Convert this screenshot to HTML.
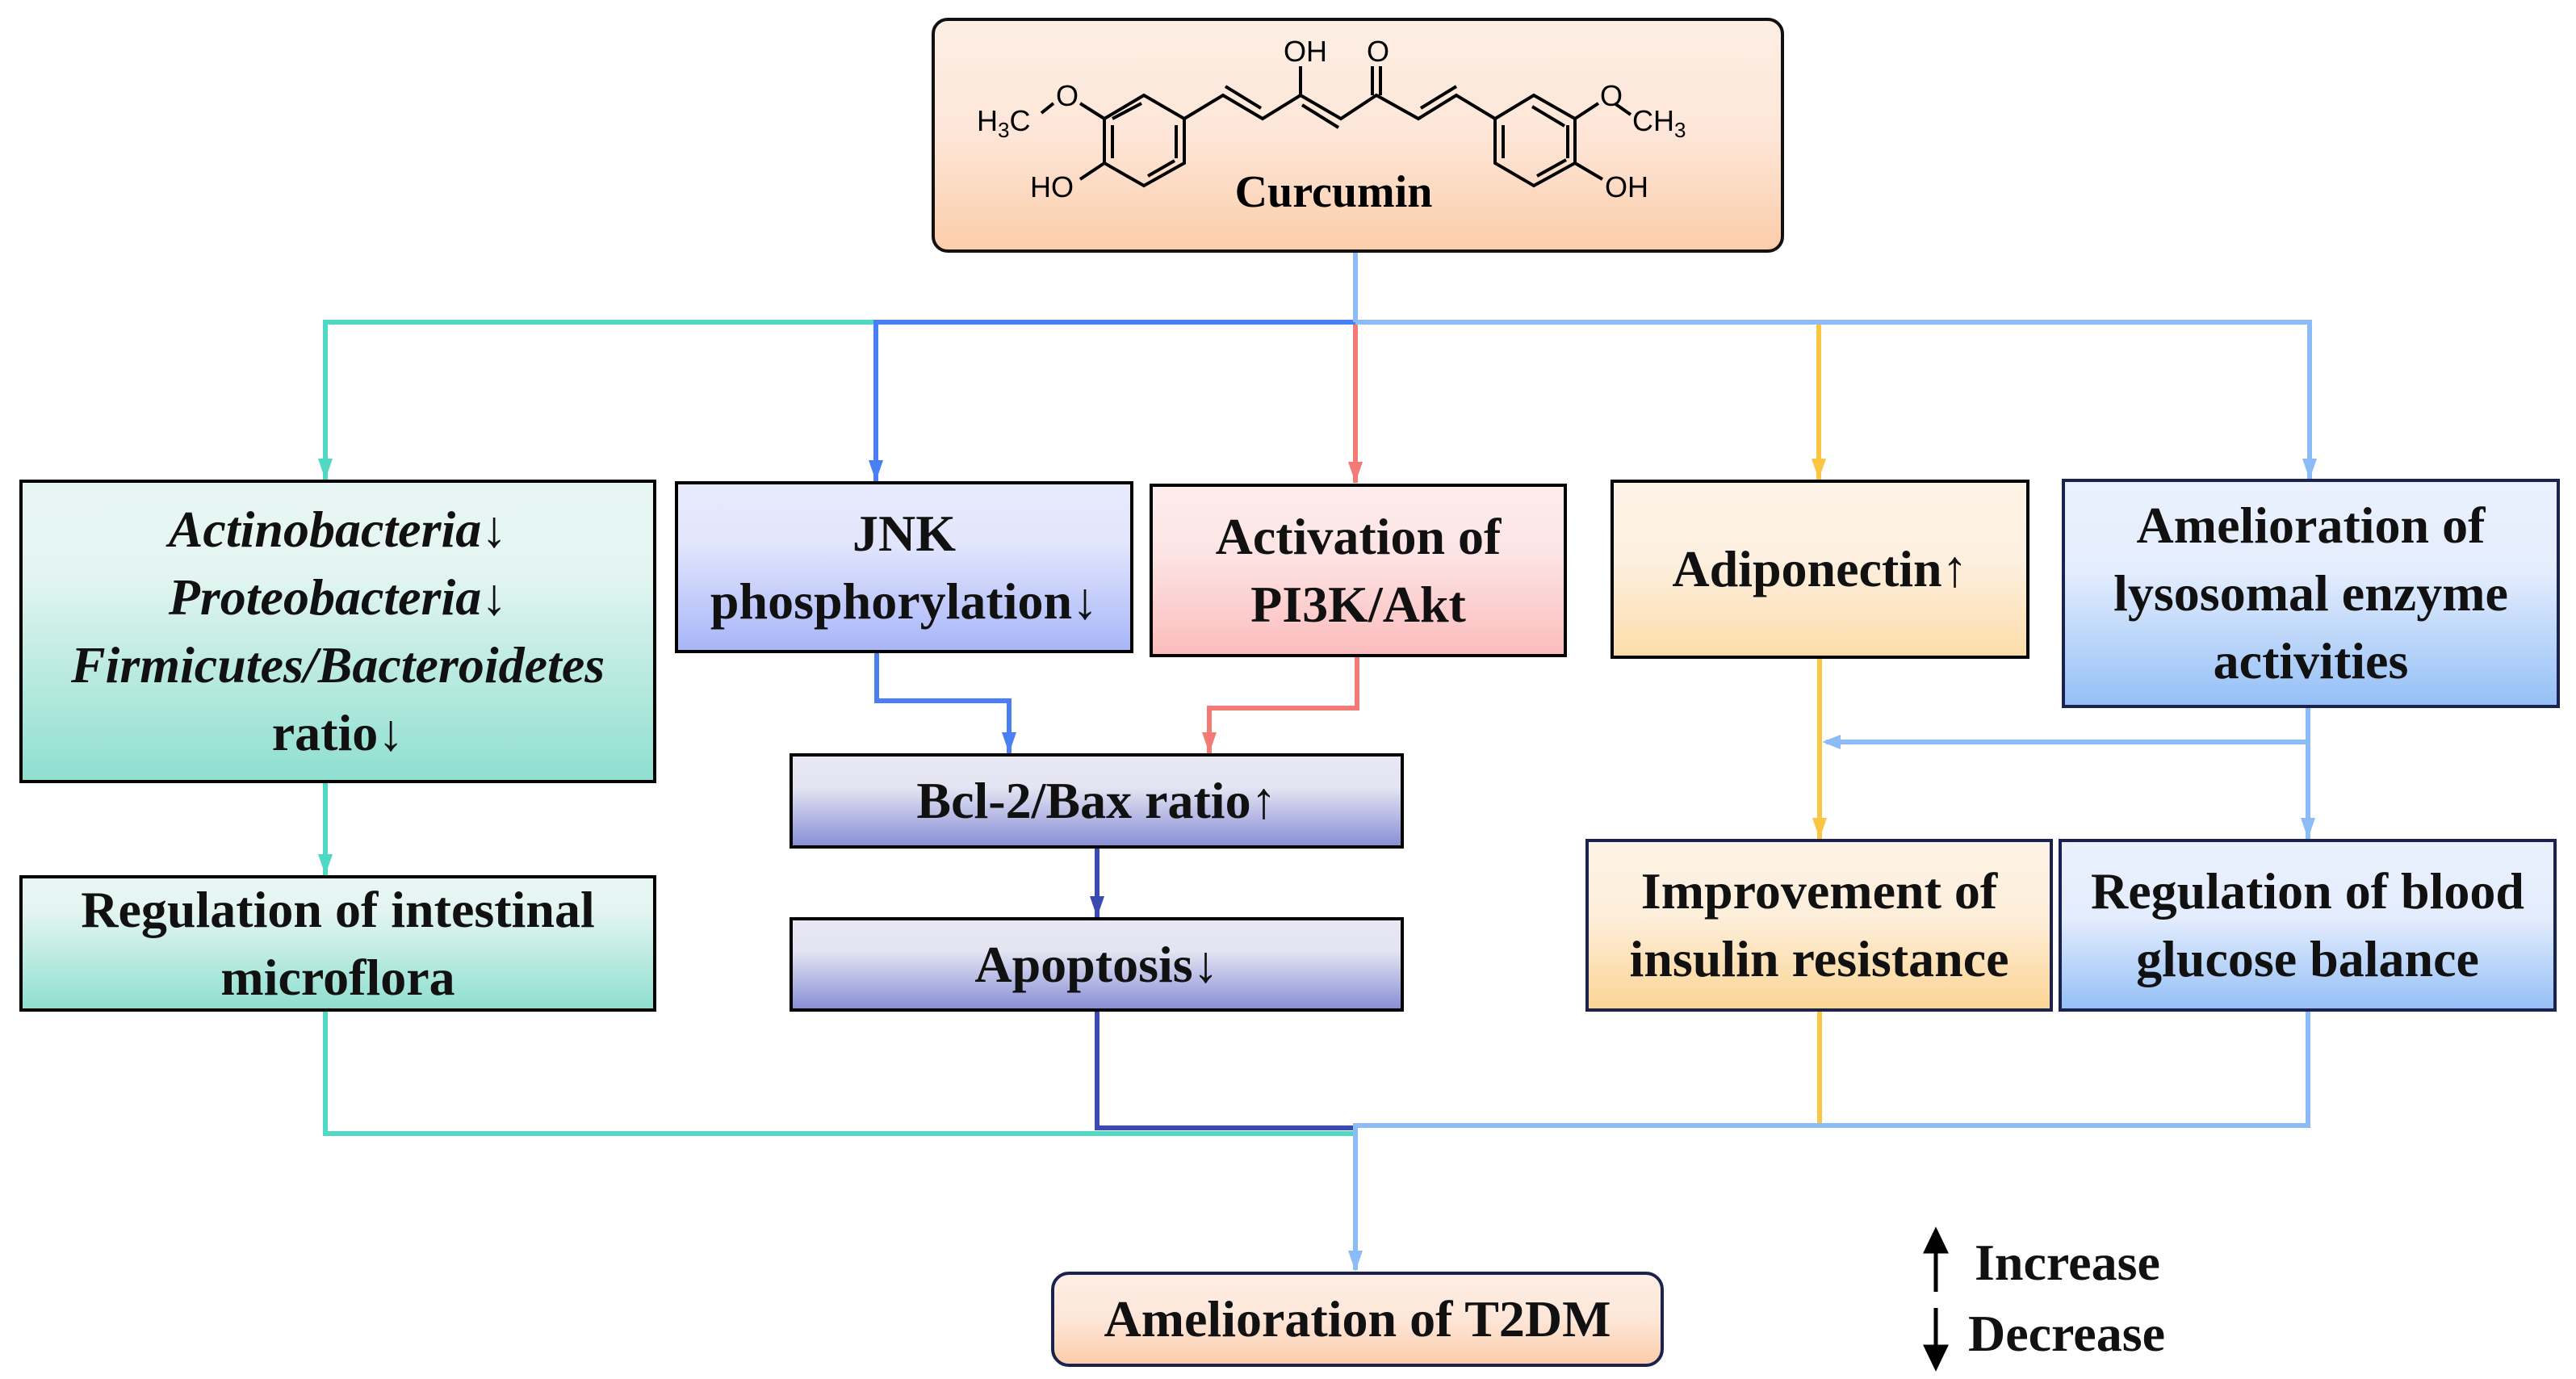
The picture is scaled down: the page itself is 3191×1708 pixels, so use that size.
<!DOCTYPE html>
<html><head><meta charset="utf-8"><style>
html,body{margin:0;padding:0;background:#fff;}
body{width:3191px;height:1708px;position:relative;overflow:hidden;font-family:"Liberation Serif",serif;}
.b{position:absolute;box-sizing:border-box;display:flex;align-items:center;justify-content:center;text-align:center;font-weight:bold;font-size:64px;line-height:84px;color:#111;}
.k{border:4px solid #000;}
.n{border:4px solid #1a2250;}
svg{position:absolute;left:0;top:0;}
</style></head><body>
<svg width="3191" height="1708">
<g fill="none" stroke-width="6">
<polyline points="403,594 403,399 1679,399" stroke="#4fd8c4"/>
<polyline points="1085,596 1085,399 1679,399" stroke="#4a7ef5"/>
<line x1="1679" y1="313" x2="1679" y2="399" stroke="#8cbcf8"/>
<polyline points="1679,399 2861,399 2861,594" stroke="#8cbcf8"/>
<line x1="1679" y1="402" x2="1679" y2="598" stroke="#f47a76"/>
<line x1="2253" y1="402" x2="2253" y2="594" stroke="#f9c542"/>
<line x1="403" y1="969" x2="403" y2="1084" stroke="#4fd8c4"/>
<polyline points="403,1252 403,1404 1679,1404" stroke="#4fd8c4"/>
<polyline points="1086,809 1086,868 1250,868 1250,933" stroke="#4a7ef5"/>
<polyline points="1681,814 1681,877 1498,877 1498,933" stroke="#f47a76"/>
<line x1="1359" y1="1051" x2="1359" y2="1136" stroke="#3b4ab0"/>
<polyline points="1359,1252 1359,1397 1679,1397" stroke="#3b4ab0"/>
<line x1="2254" y1="815" x2="2254" y2="1039" stroke="#f9c542"/>
<polyline points="2859,876 2859,1039" stroke="#8cbcf8"/>
<line x1="2859" y1="919" x2="2262" y2="919" stroke="#8cbcf8"/>
<line x1="2254" y1="1252" x2="2254" y2="1394" stroke="#f9c542"/>
<polyline points="1679,1573 1679,1394 2859,1394 2859,1252" stroke="#8cbcf8"/>
</g>
<g stroke="none">
<polygon points="394,568 412,568 403,594" fill="#4fd8c4"/>
<polygon points="1076,570 1094,570 1085,596" fill="#4a7ef5"/>
<polygon points="1670,572 1688,572 1679,598" fill="#f47a76"/>
<polygon points="2244,568 2262,568 2253,594" fill="#f9c542"/>
<polygon points="2852,568 2870,568 2861,594" fill="#8cbcf8"/>
<polygon points="394,1058 412,1058 403,1084" fill="#4fd8c4"/>
<polygon points="1241,907 1259,907 1250,933" fill="#4a7ef5"/>
<polygon points="1489,907 1507,907 1498,933" fill="#f47a76"/>
<polygon points="1350,1110 1368,1110 1359,1136" fill="#3b4ab0"/>
<polygon points="2245,1013 2263,1013 2254,1039" fill="#f9c542"/>
<polygon points="2850,1013 2868,1013 2859,1039" fill="#8cbcf8"/>
<polygon points="2257,919 2280,910 2280,928" fill="#8cbcf8"/>
<polygon points="1670,1549 1688,1549 1679,1575" fill="#8cbcf8"/>
</g>
</svg>

<div class="b" style="left:1154px;top:22px;width:1056px;height:291px;border:4px solid #111;border-radius:20px;background:linear-gradient(#fdeee4 0%,#fde6d8 50%,#fccdaa 100%);"></div>
<svg width="3191" height="1708">
<g fill="none" stroke="#000" stroke-width="4">
<polygon points="1417,118 1467,147 1467,202 1417,230 1368,202 1368,147"/>
<line x1="1457" y1="155" x2="1457" y2="196"/><line x1="1378" y1="155" x2="1378" y2="196"/><line x1="1422" y1="218" x2="1455" y2="199"/><line x1="1378" y1="147" x2="1414" y2="128"/>
<polyline points="1467,147 1515,118 1564,147 1611,118 1661,147 1705,118 1757,147 1804,118 1852,147"/>
<line x1="1518" y1="107" x2="1562" y2="134"/><line x1="1613" y1="130" x2="1658" y2="158"/><line x1="1760" y1="134" x2="1804" y2="107"/>
<line x1="1611" y1="118" x2="1611" y2="82"/>
<line x1="1700" y1="118" x2="1700" y2="82"/><line x1="1710" y1="118" x2="1710" y2="82"/>
<polygon points="1852,147 1900,118 1951,147 1951,202 1900,230 1852,202"/>
<line x1="1862" y1="155" x2="1862" y2="196"/><line x1="1942" y1="155" x2="1942" y2="196"/><line x1="1898" y1="132" x2="1938" y2="156"/><line x1="1904" y1="218" x2="1940" y2="198"/>
<line x1="1368" y1="147" x2="1338" y2="128"/><line x1="1305" y1="128" x2="1290" y2="140"/>
<line x1="1368" y1="202" x2="1338" y2="222"/>
<line x1="1951" y1="147" x2="1980" y2="128"/><line x1="2000" y1="128" x2="2020" y2="142"/>
<line x1="1951" y1="202" x2="1985" y2="222"/>
</g>
<g font-family="Liberation Sans, sans-serif" font-size="36" fill="#000">
<text x="1590" y="76">OH</text>
<text x="1693" y="76">O</text>
<text x="1308" y="131">O</text>
<text x="1210" y="162">H<tspan font-size="26" dy="8">3</tspan><tspan dy="-8">C</tspan></text>
<text x="1276" y="244">HO</text>
<text x="1982" y="131">O</text>
<text x="2022" y="162">CH<tspan font-size="26" dy="8">3</tspan></text>
<text x="1988" y="244">OH</text>
</g>
<text x="1652" y="256" font-family="Liberation Serif, serif" font-weight="bold" font-size="56" text-anchor="middle">Curcumin</text>
</svg>

<div class="b k" style="left:24px;top:594px;width:789px;height:376px;background:linear-gradient(#e8f6f3 0%,#e4f5f1 30%,#8fdfd0 100%);"><div><i>Actinobacteria↓<br>Proteobacteria↓<br>Firmicutes/Bacteroidetes</i><br>ratio↓</div></div>
<div class="b k" style="left:24px;top:1084px;width:789px;height:169px;background:linear-gradient(#e8f6f3 0%,#e4f5f1 25%,#8fdfd0 100%);"><div>Regulation of intestinal<br>microflora</div></div>
<div class="b k" style="left:836px;top:596px;width:568px;height:213px;background:linear-gradient(#e8eafc 0%,#e2e6fc 35%,#a8b6f8 100%);"><div>JNK<br>phosphorylation↓</div></div>
<div class="b k" style="left:1424px;top:599px;width:517px;height:215px;background:linear-gradient(#fdecec 0%,#fde4e4 40%,#fbbcbc 100%);"><div>Activation of<br>PI3K/Akt</div></div>
<div class="b k" style="left:978px;top:933px;width:761px;height:118px;background:linear-gradient(#e8e8f4 0%,#e4e4f2 35%,#8890d6 100%);"><div>Bcl-2/Bax ratio↑</div></div>
<div class="b k" style="left:978px;top:1136px;width:761px;height:117px;background:linear-gradient(#e8e8f4 0%,#e4e4f2 35%,#8890d6 100%);"><div>Apoptosis↓</div></div>
<div class="b k" style="left:1995px;top:594px;width:519px;height:222px;background:linear-gradient(#fdf3e6 0%,#fdf0e0 45%,#fddcaa 100%);"><div>Adiponectin↑</div></div>
<div class="b n" style="left:2554px;top:593px;width:617px;height:284px;background:linear-gradient(#eaf1fd 0%,#e4edfd 40%,#95c0f6 100%);"><div>Amelioration of<br>lysosomal enzyme<br>activities</div></div>
<div class="b n" style="left:1964px;top:1039px;width:579px;height:214px;background:linear-gradient(#fdf3e6 0%,#fdeeda 45%,#fcd595 100%);"><div>Improvement of<br>insulin resistance</div></div>
<div class="b n" style="left:2550px;top:1039px;width:617px;height:214px;background:linear-gradient(#eaf1fd 0%,#e4edfd 45%,#95c0f6 100%);"><div>Regulation of blood<br>glucose balance</div></div>
<div class="b" style="left:1302px;top:1575px;width:759px;height:118px;border:4px solid #1a2250;border-radius:22px;background:linear-gradient(#fdeee4 0%,#fde6d8 50%,#fccdaa 100%);"><div>Amelioration of T2DM</div></div>

<svg width="3191" height="1708">
<g stroke="#000" stroke-width="5" fill="#000">
<line x1="2398" y1="1600" x2="2398" y2="1545"/><polygon points="2386,1550 2410,1550 2398,1525"/>
<line x1="2398" y1="1620" x2="2398" y2="1672"/><polygon points="2386,1668 2410,1668 2398,1693"/>
</g>
</svg>
<div style="position:absolute;left:2446px;top:1520px;font-family:'Liberation Serif',serif;font-weight:bold;font-size:64px;line-height:88px;color:#111;">
<div>Increase</div>
<div style="margin-left:-8px">Decrease</div>
</div>
</body></html>
